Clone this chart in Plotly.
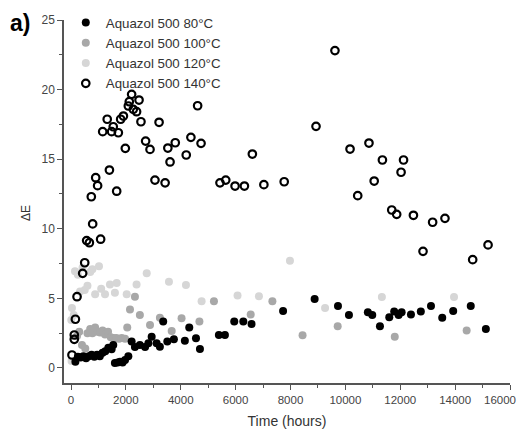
import plotly.graph_objects as go

# ---- data ----
t80 = [160, 250, 350, 450, 550, 650, 750, 850, 950, 1050, 1150, 1250, 1360, 1480, 1540,
       1600, 1700, 1785, 1880, 1970, 2090, 2210, 2330, 2510, 2700, 2820, 2940, 3120, 3240,
       3360, 3510, 3750, 4150, 4310, 4555, 4700, 5390, 5610, 5950, 6280, 6580, 7730, 8880,
       9730, 10130, 10820, 10980, 11260, 11600, 11780, 11940, 12050, 12390, 12750, 13120,
       13530, 13930, 14570, 15120]
e80 = [0.45, 0.8, 0.75, 0.85, 0.7, 0.85, 0.95, 0.8, 0.95, 0.85, 1.1, 1.2, 1.45, 1.35, 1.65,
       0.35, 0.4, 0.45, 0.4, 0.57, 0.85, 1.9, 1.5, 1.65, 1.5, 1.77, 2.25, 1.77, 1.53,
       3.33, 1.9, 2.06, 1.96, 2.9, 2.13, 1.36, 2.37, 2.37, 3.33, 3.33, 3.16, 4.1, 4.95,
       4.45, 3.8, 4.0, 3.8, 3.0, 3.65, 4.05, 3.8, 4.0, 3.85, 4.05, 4.45,
       3.6, 4.1, 4.45, 2.8]

t100 = [220, 300, 400, 520, 600, 700, 780, 880, 960, 1060, 1150, 1240, 1350, 1450, 1550,
        1650, 1750, 1850, 1970, 2050, 2150, 2330, 2510, 2880, 3240, 3670, 4030, 4680, 5210,
        6550, 7340, 8440, 9720, 11800, 14420]
e100 = [2.3, 2.6, 1.65, 1.4, 2.5, 2.8, 2.5, 2.9, 2.6, 2.55, 2.7, 2.4, 2.6, 2.2, 2.15,
        2.15, 2.1, 2.15, 2.1, 2.9, 4.2, 5.12, 3.8, 3.09, 3.6, 2.66, 3.57, 3.33, 4.8,
        3.85, 4.8, 2.35, 3.0, 2.25, 2.7]

t120 = [20, 10, 35, 100, 145, 250, 330, 420, 500, 600, 700, 780, 880, 1020, 1100, 1240,
        1420, 1600, 1665, 2030, 2390, 2760, 3570, 4190, 4760, 6070, 6850, 7980, 9260,
        11330, 13960]
e120 = [0.5, 3.45, 4.3, 3.8, 6.95, 6.7, 5.5, 7.2, 5.6, 5.9, 6.9, 7.1, 5.3, 7.3, 5.7, 5.3,
        6.0, 5.4, 6.1, 5.3, 6.0, 6.8, 6.2, 5.96, 4.8, 5.2, 5.15, 7.7, 4.3,
        5.1, 5.1]

t140 = [35, 120, 120, 160, 220, 425, 500, 570, 670, 740, 790, 900, 970, 1080, 1155, 1320,
        1400, 1480, 1540, 1665, 1725, 1810, 1910, 1980, 2090, 2125, 2210, 2270, 2390, 2480,
        2550, 2720, 2880, 3060, 3210, 3430, 3530, 3610, 3800, 4200, 4370, 4615, 4740, 5430,
        5640, 5980, 6320, 6610, 7030, 7770, 8930, 9620, 10170, 10450, 10860, 11050, 11350,
        11690, 11870, 12030, 12120, 12480, 12830, 13180, 13630, 14640, 15200]
e140 = [0.93, 2.37, 2.06, 3.5, 5.12, 6.8, 7.56, 9.15, 9.0, 12.3, 10.35, 13.67, 13.1, 9.25,
        16.98, 17.87, 14.22, 16.98, 17.33, 12.7, 16.9, 17.87, 18.1, 15.78, 18.82, 19.13,
        19.66, 18.58, 18.41, 19.25, 17.69, 16.3, 15.7, 13.5, 17.65, 13.3, 15.8, 14.8, 16.18,
        15.3, 16.57, 18.84, 16.14, 13.3, 13.5, 13.07, 13.07, 15.37, 13.17, 13.38, 17.36,
        22.8, 15.73, 12.38, 16.16, 13.43, 14.94, 11.35, 11.04, 14.06, 14.94, 10.97, 8.38,
        10.47, 10.75, 7.78, 8.84]

x_ticks = [0, 2000, 4000, 6000, 8000, 10000, 12000, 14000, 16000]
x_ticktext = ["0", "2000", "4000", "6000", "8000", "10000", "12000", "14000", ""]
last_tick_label = "16000"

names = ["Aquazol 500 80°C", "Aquazol 500 100°C", "Aquazol 500 120°C", "Aquazol 500 140°C"]

fig = go.Figure()
fig.add_trace(go.Scatter(x=t120, y=e120, mode="markers", name=names[2], legendrank=3,
                         marker=dict(size=8, color="#d6d6d6", line=dict(width=0))))
fig.add_trace(go.Scatter(x=t100, y=e100, mode="markers", name=names[1], legendrank=2,
                         marker=dict(size=8, color="#a8a8a8", line=dict(width=0))))
fig.add_trace(go.Scatter(x=t140, y=e140, mode="markers", name=names[3], legendrank=4,
                         marker=dict(size=7.5, color="black", symbol="circle-open",
                                     line=dict(width=2.2, color="black"))))
fig.add_trace(go.Scatter(x=t80, y=e80, mode="markers", name=names[0], legendrank=1,
                         marker=dict(size=8, color="black", line=dict(width=0))))

# the page body adds an 8px margin, so the figure is laid out to fit inside it
axcol = "#555555"
fig.update_layout(
    width=510, height=421,
    margin=dict(l=56, r=8, t=12, b=46, autoexpand=False),
    plot_bgcolor="white", paper_bgcolor="white",
    font=dict(family="Liberation Sans, Arial, sans-serif", color="#333333", size=12),
    showlegend=True,
    legend=dict(x=0.004, y=1.035, xanchor="left", yanchor="top",
                bgcolor="rgba(0,0,0,0)", font=dict(size=13.3, color="#333333"),
                tracegroupgap=0),
    xaxis=dict(range=[-255, 16000], tickmode="array", tickvals=x_ticks, ticktext=x_ticktext,
               showline=True, linecolor=axcol, linewidth=1.5, showgrid=False,
               zeroline=False, ticks="outside", ticklen=5, tickcolor=axcol,
               minor=dict(dtick=1000, tick0=0, ticks="outside", ticklen=3, tickcolor=axcol),
               tickfont=dict(size=11.5, color="#444444"),
               title=dict(text="Time (hours)", font=dict(size=14, color="#333333"), standoff=13)),
    yaxis=dict(range=[-1.08, 25], tickmode="linear", tick0=0, dtick=5,
               showline=True, linecolor=axcol, linewidth=1.5, showgrid=False,
               zeroline=False, ticks="outside", ticklen=5, tickcolor=axcol,
               minor=dict(dtick=2.5, ticks="outside", ticklen=3, tickcolor=axcol),
               tickfont=dict(size=12, color="#444444")),
    annotations=[
        dict(text=last_tick_label, xref="x", yref="paper", x=x_ticks[-1], y=0,
             xanchor="right", yanchor="middle", xshift=8, yshift=-17, showarrow=False,
             font=dict(size=11.5, color="#444444")),
        dict(text="ΔE", xref="paper", yref="paper", x=-38/446, y=(375-205)/363,
             showarrow=False, textangle=-90, font=dict(size=12, color="#333333"),
             xanchor="center", yanchor="middle"),
        dict(text="<b>a)</b>", xref="paper", yref="paper", x=-44/446, y=(375-15)/363,
             showarrow=False, font=dict(size=23, color="black",
                                        family="Liberation Sans, Arial, sans-serif"),
             xanchor="center", yanchor="middle"),
    ],
)

fig.write_html("out.html")
